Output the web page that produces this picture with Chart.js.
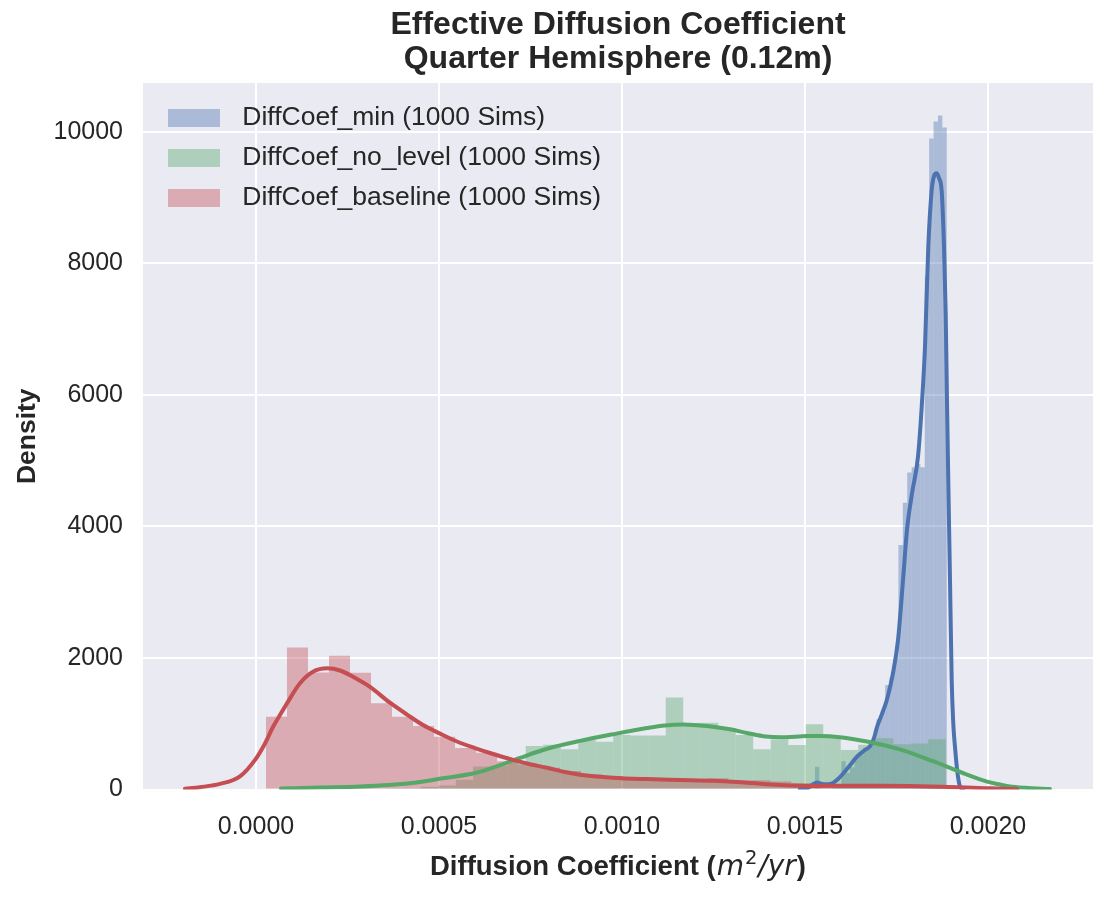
<!DOCTYPE html>
<html>
<head>
<meta charset="utf-8">
<script src="https://cdn.jsdelivr.net/npm/chart.js@4.4.1/dist/chart.umd.min.js"></script>
<style>
  html, body { margin: 0; padding: 0; background: #ffffff; }
  #wrap { width: 1094px; height: 898px; }
</style>
</head>
<body>
<div id="wrap"><canvas id="c" width="1094" height="898"></canvas></div>
<script>
// ---------------- data ----------------
const titleLines = ['Effective Diffusion Coefficient', 'Quarter Hemisphere (0.12m)'];
const xTitleParts = ['Diffusion Coefficient (', 'm', '2', '/yr', ')'];
const yTitle = 'Density';
const seriesLabels = ['DiffCoef_min (1000 Sims)', 'DiffCoef_no_level (1000 Sims)', 'DiffCoef_baseline (1000 Sims)'];
const xTicks = [0, 0.0005, 0.0010, 0.0015, 0.0020];
const yTicks = [0, 2000, 4000, 6000, 8000, 10000];
const xRange = [-0.0003087, 0.0022869];
const yRange = [0, 10745];

// histogram bin centres and densities
const minCenters = [0.0015333, 0.0015453, 0.0015573, 0.0015693, 0.0015813, 0.0015933, 0.0016053, 0.0016173, 0.0016293, 0.0016413,
  0.0016533, 0.0016653, 0.0016773, 0.0016893, 0.0017013, 0.0017133, 0.0017253, 0.0017373, 0.0017493, 0.0017613,
  0.0017733, 0.0017853, 0.0017973, 0.0018093, 0.0018213, 0.0018333, 0.0018453, 0.0018573, 0.0018693, 0.0018813];
const minDensity = [346, 0, 0, 0, 85, 85, 430, 250, 340, 500,
  520, 600, 650, 780, 1070, 1200, 1590, 1700, 2020, 3720,
  4360, 4820, 4900, 4950, 4900, 7800, 9900, 10160, 10250, 10070];

const noLevelCenters = [0.0003785, 0.0004263, 0.0004741, 0.0005219, 0.0005697, 0.0006175, 0.0006653, 0.0007131, 0.0007609, 0.0008087,
  0.0008566, 0.0009044, 0.0009522, 0.0010000, 0.0010478, 0.0010956, 0.0011434, 0.0011912, 0.0012390, 0.0012868,
  0.0013347, 0.0013825, 0.0014303, 0.0014781, 0.0015259, 0.0015737, 0.0016215, 0.0016693, 0.0017171, 0.0017649,
  0.0018128, 0.0018606];
const noLevelDensity = [20, 20, 40, 60, 150, 350, 360, 420, 660, 680,
  611, 753, 727, 830, 820, 820, 1400, 1010, 1016, 930,
  830, 611, 760, 677, 991, 814, 600, 680, 778, 690,
  700, 763];

const baselineCenters = [0.0000560, 0.0001134, 0.0001708, 0.0002282, 0.0002856, 0.0003430, 0.0004004, 0.0004578, 0.0005152, 0.0005726,
  0.0006300, 0.0006874, 0.0007448, 0.0008022, 0.0008596, 0.0009170, 0.0009744, 0.0010318, 0.0010892, 0.0011466,
  0.0012040, 0.0012614, 0.0013188, 0.0013762, 0.0014336, 0.0014910, 0.0015484, 0.0016058, 0.0016632, 0.0017206,
  0.0017780, 0.0018354];
const baselineDensity = [1107, 2160, 1780, 2035, 1777, 1311, 1107, 966, 803, 630,
  560, 430, 380, 330, 280, 230, 200, 180, 170, 160,
  150, 170, 140, 140, 120, 100, 80, 60, 60, 50,
  50, 40];

// KDE curves
const minKdeX = [0.0014863, 0.0015082, 0.0015219, 0.0015328, 0.0015464, 0.0015628, 0.0015765, 0.0015902, 0.0016038, 0.0016230,
  0.0016421, 0.0016612, 0.0016776, 0.0016885, 0.0016967, 0.0017104, 0.0017240, 0.0017404, 0.0017541, 0.0017678,
  0.0017787, 0.0017923, 0.0018087, 0.0018189, 0.0018279, 0.0018369, 0.0018462, 0.0018525, 0.0018598, 0.0018661,
  0.0018735, 0.0018798, 0.0018844, 0.0018880, 0.0018915, 0.0018962, 0.0019008, 0.0019052, 0.0019098, 0.0019167,
  0.0019235, 0.0019317];
const minKdeY = [3, 25, 80, 105, 85, 80, 100, 160, 240, 370,
  500, 590, 660, 780, 950, 1150, 1370, 1770, 2270, 3180,
  3950, 4500, 5060, 5820, 6740, 8256, 9118, 9330, 9372, 9300,
  9100, 8250, 7250, 5900, 4700, 3190, 1670, 1000, 650, 250,
  45, 5];

const noLevelKdeX = [0.0000683, 0.0001749, 0.0002842, 0.0004208, 0.0005109, 0.0005984, 0.0006667, 0.0007213, 0.0007951, 0.0008852,
  0.0009754, 0.0010683, 0.0011175, 0.0011667, 0.0012131, 0.0012486, 0.0012951, 0.0013415, 0.0013934, 0.0014317,
  0.0015055, 0.0015410, 0.0015956, 0.0016694, 0.0017596, 0.0018497, 0.0018962, 0.0019426, 0.0019973, 0.0020328,
  0.0020601, 0.0021011, 0.0021694];
const noLevelKdeY = [15, 30, 45, 95, 170, 250, 370, 480, 620, 740,
  840, 935, 975, 990, 975, 955, 915, 860, 805, 795,
  812, 814, 796, 730, 610, 430, 330, 225, 120, 75,
  45, 25, 8];

const baselineKdeX = [-0.0001940, -0.0001530, -0.0000984, -0.0000437, 0.0000000, 0.0000246, 0.0000464, 0.0000656, 0.0000847, 0.0001202,
  0.0001557, 0.0001940, 0.0002295, 0.0002760, 0.0003115, 0.0003661, 0.0004126, 0.0004563, 0.0005027, 0.0005492,
  0.0005984, 0.0006393, 0.0007022, 0.0007486, 0.0007951, 0.0008443, 0.0008852, 0.0009754, 0.0010683, 0.0011585,
  0.0012486, 0.0013415, 0.0014317, 0.0015219, 0.0016230, 0.0017049, 0.0017869, 0.0018689, 0.0019235, 0.0020055,
  0.0020792];
const baselineKdeY = [10, 35, 85, 200, 470, 700, 950, 1133, 1310, 1615,
  1790, 1843, 1810, 1680, 1560, 1320, 1140, 980, 850, 730,
  630, 555, 450, 385, 330, 265, 225, 180, 158, 145,
  132, 103, 70, 55, 58, 57, 52, 42, 33, 18,
  4];

// ---------------- styling ----------------
const FONT = '"Liberation Sans", Arial, Helvetica, sans-serif';
const MATH = '"DejaVu Sans", sans-serif';
const TEXT = '#262626';
const PLOT_BG = '#EAEAF2';
const COLORS = ['#4C72B0', '#55A868', '#C44E52'];
const FILLS = ['rgba(76,114,176,0.4)', 'rgba(85,168,104,0.4)', 'rgba(196,78,82,0.4)'];
const X_TITLE_STYLES = [
  { font: 'bold 27.5px ' + FONT, dy: 0, gap: 1 },
  { font: 'italic 28px ' + MATH, dy: 0, gap: 1 },
  { font: '19.5px ' + MATH, dy: -11.5, gap: 1 },
  { font: 'italic 28px ' + MATH, dy: 0, gap: 1 },
  { font: 'bold 27.5px ' + FONT, dy: 0, gap: 0 }
];

const pts = (xs, ys) => xs.map((x, i) => ({ x: x, y: ys[i] }));

function swatch(color) {
  const c = document.createElement('canvas');
  c.width = 52; c.height = 18;
  const g = c.getContext('2d');
  g.fillStyle = color;
  g.fillRect(0, 0, 52, 18);
  return c;
}

function histDataset(label, centers, dens, axisId, idx, order) {
  return {
    type: 'bar', label: label, data: pts(centers, dens), xAxisID: axisId, yAxisID: 'y',
    backgroundColor: FILLS[idx], borderWidth: 0, grouped: false,
    barPercentage: 1, categoryPercentage: 1, inflateAmount: 0, order: order
  };
}
function kdeDataset(label, xs, ys, idx, order) {
  return {
    type: 'line', label: label + ' KDE', data: pts(xs, ys), xAxisID: 'x', yAxisID: 'y',
    borderColor: COLORS[idx], backgroundColor: COLORS[idx], borderWidth: 4, pointRadius: 0,
    fill: false, cubicInterpolationMode: 'monotone', borderJoinStyle: 'round', borderCapStyle: 'round', order: order
  };
}

const hiddenX = () => ({
  type: 'linear', position: 'bottom', display: false, min: xRange[0], max: xRange[1],
  offset: false, grid: { offset: false }, ticks: { display: false },
  afterBuildTicks: s => { s.ticks = []; }
});

const plotBg = {
  id: 'plotBg',
  beforeDraw(chart) {
    const a = chart.chartArea, ctx = chart.ctx;
    ctx.save();
    ctx.fillStyle = PLOT_BG;
    ctx.fillRect(a.left, a.top, a.right - a.left, a.bottom - a.top);
    ctx.restore();
  }
};
const legendPlace = {
  id: 'legendPlace',
  afterLayout(chart) {
    const lg = chart.legend;
    if (!lg) return;
    const a = chart.chartArea;
    const w = lg.width;
    lg.left = a.left + 2.5;
    lg.top = a.top + 8.25;
    lg.right = lg.left + w;
    lg.bottom = a.bottom;
  }
};
// x-axis title with bold text and italic math part (m^2/yr)
const xAxisTitle = {
  id: 'xAxisTitle',
  afterDraw(chart) {
    const ctx = chart.ctx, a = chart.chartArea;
    ctx.save();
    const widths = xTitleParts.map((t, i) => { ctx.font = X_TITLE_STYLES[i].font; return ctx.measureText(t).width + X_TITLE_STYLES[i].gap; });
    const total = widths.reduce((s, w) => s + w, 0);
    let x = (a.left + a.right) / 2 - total / 2;
    const baseY = chart.height - 23;
    ctx.fillStyle = TEXT;
    ctx.textAlign = 'left';
    ctx.textBaseline = 'alphabetic';
    xTitleParts.forEach((t, i) => {
      ctx.font = X_TITLE_STYLES[i].font;
      ctx.fillText(t, x, baseY + X_TITLE_STYLES[i].dy);
      x += widths[i];
    });
    ctx.restore();
  }
};

// draw order like matplotlib: all histograms below all KDE lines
new Chart(document.getElementById('c'), {
  type: 'bar',
  data: {
    datasets: [
      histDataset(seriesLabels[0], minCenters, minDensity, 'xb', 0, 6),
      kdeDataset(seriesLabels[0], minKdeX, minKdeY, 0, 3),
      histDataset(seriesLabels[1], noLevelCenters, noLevelDensity, 'xg', 1, 5),
      kdeDataset(seriesLabels[1], noLevelKdeX, noLevelKdeY, 1, 2),
      histDataset(seriesLabels[2], baselineCenters, baselineDensity, 'xr', 2, 4),
      kdeDataset(seriesLabels[2], baselineKdeX, baselineKdeY, 2, 1)
    ]
  },
  options: {
    responsive: false,
    devicePixelRatio: 1,
    animation: false,
    events: [],
    layout: { padding: { left: 0, right: 1, top: 0, bottom: 0 } },
    scales: {
      x: {
        type: 'linear', position: 'bottom', min: xRange[0], max: xRange[1],
        offset: false,
        afterBuildTicks: s => { s.ticks = xTicks.map(v => ({ value: v })); },
        afterFit: s => { s.height = 108.5; },
        grid: { color: '#ffffff', lineWidth: 2, drawTicks: false, offset: false },
        border: { display: false },
        ticks: { callback: v => Number(v).toFixed(4), font: { family: FONT, size: 25 }, color: TEXT, padding: 23, maxRotation: 0, autoSkip: false },
        title: { display: false, text: xTitleParts.join('') }
      },
      xb: hiddenX(),
      xg: hiddenX(),
      xr: hiddenX(),
      y: {
        type: 'linear', position: 'left', min: yRange[0], max: yRange[1],
        afterBuildTicks: s => { s.ticks = yTicks.map(v => ({ value: v })); },
        afterFit: s => { s.width = 143; },
        grid: { color: '#ffffff', lineWidth: 2, drawTicks: false },
        border: { display: false },
        ticks: { callback: v => String(v), font: { family: FONT, size: 25 }, color: TEXT, padding: 20 },
        title: { display: true, text: yTitle, font: { family: FONT, size: 26.5, weight: 'bold' }, color: TEXT, padding: { top: 12, bottom: 0 } }
      }
    },
    plugins: {
      tooltip: { enabled: false },
      title: {
        display: true, text: titleLines, fullSize: false,
        font: { family: FONT, size: 32, weight: 'bold', lineHeight: 1.0625 },
        color: TEXT, padding: { top: 8, bottom: 7 }
      },
      legend: {
        display: true, position: 'chartArea', align: 'start',
        labels: {
          font: { family: FONT, size: 26.5 }, color: TEXT, padding: 13.5,
          usePointStyle: true, pointStyleWidth: 70, textAlign: 'left',
          generateLabels(chart) {
            const items = Chart.defaults.plugins.legend.labels.generateLabels(chart);
            items.forEach(it => { it.pointStyle = swatch(chart.data.datasets[it.datasetIndex].backgroundColor); });
            return items;
          },
          filter: (item, data) => data.datasets[item.datasetIndex].type === 'bar',
          sort: (a, b) => a.datasetIndex - b.datasetIndex
        }
      }
    }
  },
  plugins: [plotBg, legendPlace, xAxisTitle]
});
</script>
</body>
</html>
